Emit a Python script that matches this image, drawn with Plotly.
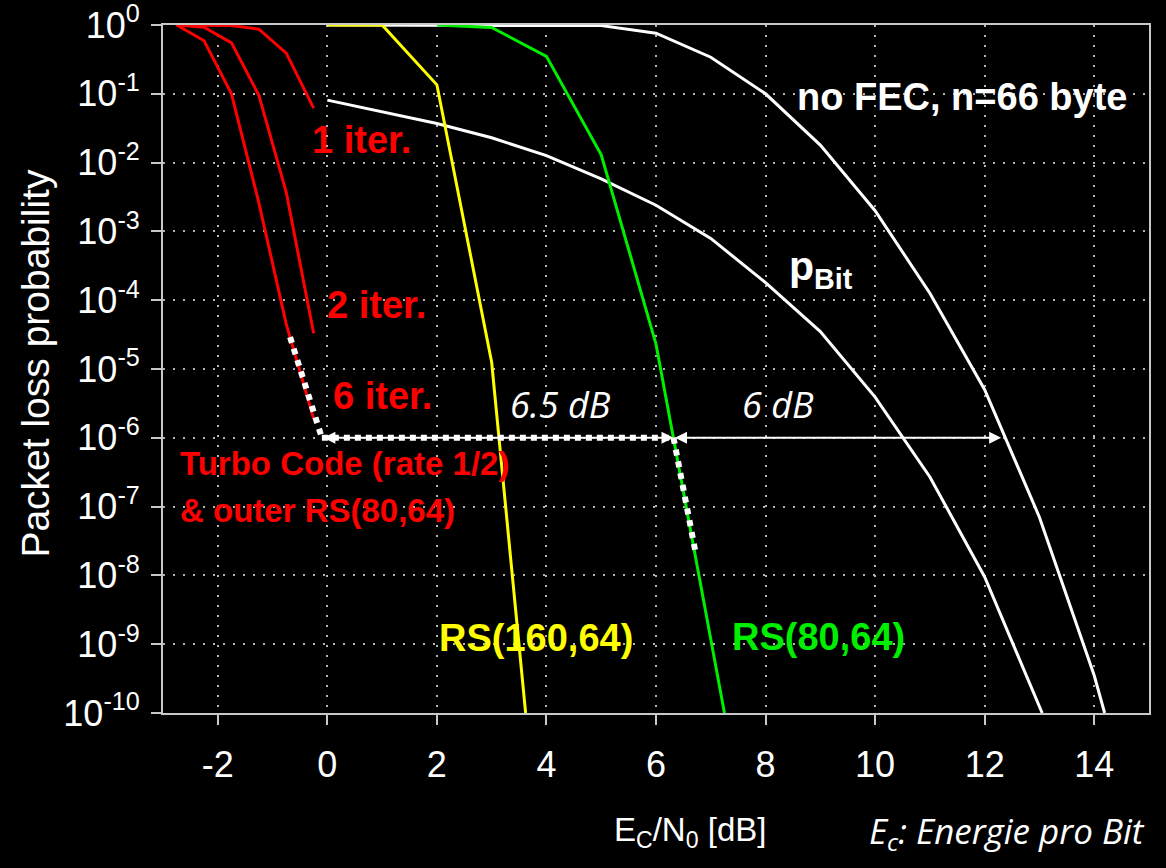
import math
import plotly.graph_objects as go

# ---------------- data ----------------
turbo_x = [-2.75, -2.25, -1.75, -1.25, -0.75, -0.25]
turbo_1iter = [1.0, 1.0, 0.98, 0.87, 0.39, 0.062]
turbo_2iter = [1.0, 0.93, 0.55, 0.095, 3.7e-3, 3.3e-5]
turbo_6iter = [1.0, 0.59, 0.10, 2.6e-3, 4.5e-5, 1.9e-6]

rs160_x = [0, 1, 2, 3, 3.62]
rs160_y = [1.0, 1.0, 0.135, 1.25e-5, 1e-10]

rs80_x = [2, 3, 4, 5, 6, 7.25]
rs80_y = [1.0, 0.92, 0.35, 0.013, 2.3e-5, 1e-10]

nofec_x = [0, 1, 2, 3, 4, 5, 6, 7, 8, 9, 10, 11, 12, 13, 14, 14.19]
nofec_y = [1.0, 1.0, 1.0, 1.0, 1.0, 0.98, 0.76, 0.34, 0.10, 0.018, 2.0e-3,
           1.26e-4, 5e-6, 7e-8, 3.5e-10, 1e-10]

pbit_x = [0, 1, 2, 3, 4, 5, 6, 7, 8, 9, 10, 11, 12, 13.05]
pbit_y = [0.081, 0.055, 0.037, 0.023, 0.0126, 5.8e-3, 2.4e-3, 7.9e-4,
          1.8e-4, 3.5e-5, 3.9e-6, 2.7e-7, 9.5e-9, 1e-10]

# extrapolations (white dotted) and gain arrows
turbo_ext_x = [-0.68, -0.10]
turbo_ext_y = [2.9e-5, 1e-6]
rs80_ext_x = [6.32, 6.72]
rs80_ext_y = [1e-6, 2.2e-8]
gain_level = 1e-6
gain1_x = [-0.10, 6.32]
gain2_x = [6.32, 12.30]

x_ticks = [-2, 0, 2, 4, 6, 8, 10, 12, 14]
x_ticktext = [str(v) for v in x_ticks]
y_exps = list(range(0, -11, -1))
y_ticks = [10.0 ** e for e in y_exps]
y_ticktext = ["10<sup>%d</sup>" % e for e in y_exps]

RED = "#ff0000"
YEL = "#ffff00"
GRN = "#00ee00"
WHT = "#ffffff"
ARIAL = "Liberation Sans, Arial, sans-serif"
ITAL = "Open Sans, Noto Sans, DejaVu Sans, sans-serif"

fig = go.Figure()


def line(x, y, color, width=3, dash=None):
    fig.add_trace(go.Scatter(x=x, y=y, mode="lines", showlegend=False,
                             hoverinfo="skip",
                             line=dict(color=color, width=width, dash=dash)))


line(pbit_x, pbit_y, WHT)
line(nofec_x, nofec_y, WHT)
line(rs160_x, rs160_y, YEL)
line(rs80_x, rs80_y, GRN)
line(turbo_x, turbo_1iter, RED)
line(turbo_x, turbo_2iter, RED)
line(turbo_x, turbo_6iter, RED)

# dotted extrapolations
line(turbo_ext_x, turbo_ext_y, WHT, width=6, dash="6px,6px")
line(rs80_ext_x, rs80_ext_y, WHT, width=6, dash="6px,6px")
line(gain1_x, [gain_level, gain_level], WHT, width=6, dash="6px,5px")

lv = math.log10(gain_level)

annotations = []
# double arrows
for (x0, x1) in [(gain1_x[0], gain1_x[1]), (gain2_x[0], gain2_x[1])]:
    annotations.append(dict(x=x1, y=lv, ax=x0, ay=lv, xref="x", yref="y",
                            axref="x", ayref="y", text="", showarrow=True,
                            arrowside="end+start", arrowhead=2, startarrowhead=2,
                            arrowsize=1.2, startarrowsize=1.2, arrowwidth=2,
                            arrowcolor=WHT, standoff=0, startstandoff=0))


def txt(t, x, y, color, size, family=ARIAL, xanchor="center", yanchor="middle",
        xref="x", yref="y", angle=0):
    annotations.append(dict(text=t, x=x, y=y, xref=xref, yref=yref,
                            showarrow=False, xanchor=xanchor, yanchor=yanchor,
                            textangle=angle,
                            font=dict(family=family, size=size, color=color)))


txt("<b>no FEC, n=66 byte</b>", 11.58, -1.05, WHT, 38)
txt("<b>1 iter.</b>", 0.63, -1.67, RED, 38)
txt("<b>2 iter.</b>", 0.89, -4.07, RED, 38)
txt("<b>6 iter.</b>", 1.01, -5.39, RED, 38)
txt("<b>Turbo Code (rate 1/2)</b>", -2.72, -6.37, RED, 33, xanchor="left")
txt("<b>&amp; outer RS(80,64)</b>", -2.72, -7.05, RED, 33, xanchor="left")
txt("<b>RS(160,64)</b>", 3.81, -8.91, YEL, 38)
txt("<b>RS(80,64)</b>", 8.97, -8.90, GRN, 38)
txt("<i>6.5 dB</i>", 4.26, -5.52, WHT, 36, family=ITAL)
txt("<i>6 dB</i>", 8.22, -5.52, WHT, 36, family=ITAL)
txt("<b>p<sub>Bit</sub></b>", 8.40, -3.55, WHT, 41, xanchor="left")

# axis titles as positioned text
txt("E<sub>C</sub>/N<sub>0</sub> [dB]", 0.455, -0.173, WHT, 33,
    xanchor="left", xref="paper", yref="paper")
txt("<i>E<sub>c</sub>: Energie pro Bit</i>", 0.714, -0.173, WHT, 35,
    family=ITAL, xanchor="left", xref="paper", yref="paper")
txt("Packet loss probability", -0.129, 0.509, WHT, 39,
    xref="paper", yref="paper", angle=-90)

axis_common = dict(
    showline=True, linecolor="#c8c8c8", linewidth=2, mirror=True,
    ticks="outside", ticklen=10, tickwidth=2, tickcolor="#c8c8c8",
    showgrid=True, gridcolor="#b4b4b4", gridwidth=2, griddash="2px,8px",
    zeroline=False, automargin=False, ticklabeloverflow="allow",
    tickfont=dict(family=ARIAL, size=36, color=WHT),
)

fig.update_layout(
    width=1166, height=868,
    margin=dict(l=163, r=17, t=25, b=155, autoexpand=False),
    paper_bgcolor="#000000", plot_bgcolor="#000000",
    showlegend=False,
    annotations=annotations,
    xaxis=dict(range=[-3, 15], tickvals=x_ticks, ticktext=x_ticktext,
               ticklabelstandoff=9, **axis_common),
    yaxis=dict(type="log", range=[-10, 0], tickvals=y_ticks,
               ticktext=y_ticktext, ticklabelstandoff=4, **axis_common),
)

fig.write_html("out.html")
